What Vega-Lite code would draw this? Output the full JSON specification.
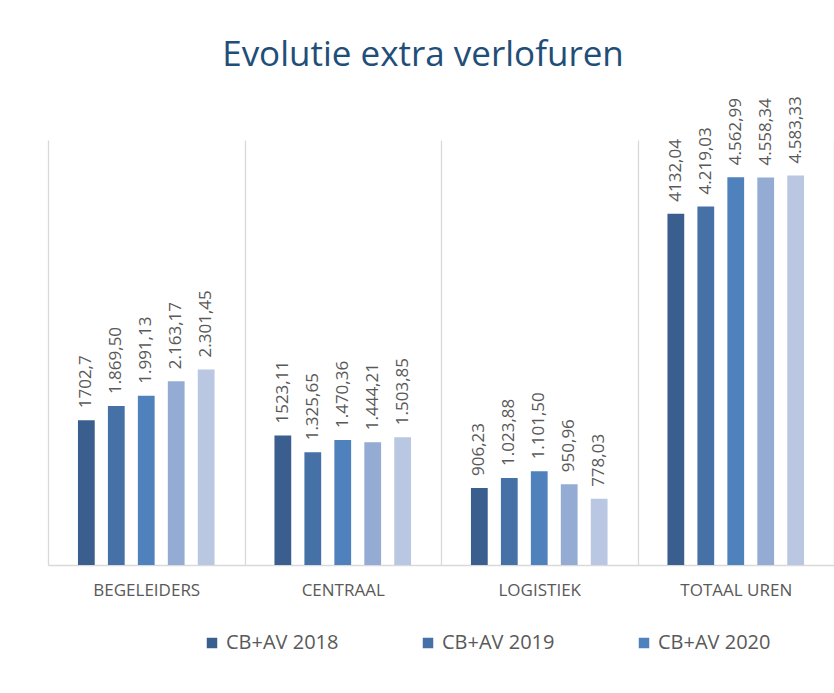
{
  "$schema": "https://vega.github.io/schema/vega-lite/v6.json",
  "width": 786,
  "height": 425,
  "padding": {"left": 48, "top": 38, "right": 0, "bottom": 40},
  "autosize": {"type": "pad"},
  "background": "white",
  "config": {"view": {"stroke": null}},
  "title": {
    "text": "Evolutie extra verlofuren",
    "fontSize": 35,
    "font": "Open Sans",
    "fontWeight": "normal",
    "color": "#1F4E79",
    "anchor": "middle",
    "dx": -18,
    "offset": 23
  },
  "data": {
    "values": [
      {"categorie": "BEGELEIDERS", "reeks": "CB+AV 2018", "uren": 1702.7, "label": "1702,7"},
      {"categorie": "BEGELEIDERS", "reeks": "CB+AV 2019", "uren": 1869.50, "label": "1.869,50"},
      {"categorie": "BEGELEIDERS", "reeks": "CB+AV 2020", "uren": 1991.13, "label": "1.991,13"},
      {"categorie": "BEGELEIDERS", "reeks": "CB+AV 2021", "uren": 2163.17, "label": "2.163,17"},
      {"categorie": "BEGELEIDERS", "reeks": "CB+AV 2022", "uren": 2301.45, "label": "2.301,45"},
      {"categorie": "CENTRAAL", "reeks": "CB+AV 2018", "uren": 1523.11, "label": "1523,11"},
      {"categorie": "CENTRAAL", "reeks": "CB+AV 2019", "uren": 1325.65, "label": "1.325,65"},
      {"categorie": "CENTRAAL", "reeks": "CB+AV 2020", "uren": 1470.36, "label": "1.470,36"},
      {"categorie": "CENTRAAL", "reeks": "CB+AV 2021", "uren": 1444.21, "label": "1.444,21"},
      {"categorie": "CENTRAAL", "reeks": "CB+AV 2022", "uren": 1503.85, "label": "1.503,85"},
      {"categorie": "LOGISTIEK", "reeks": "CB+AV 2018", "uren": 906.23, "label": "906,23"},
      {"categorie": "LOGISTIEK", "reeks": "CB+AV 2019", "uren": 1023.88, "label": "1.023,88"},
      {"categorie": "LOGISTIEK", "reeks": "CB+AV 2020", "uren": 1101.50, "label": "1.101,50"},
      {"categorie": "LOGISTIEK", "reeks": "CB+AV 2021", "uren": 950.96, "label": "950,96"},
      {"categorie": "LOGISTIEK", "reeks": "CB+AV 2022", "uren": 778.03, "label": "778,03"},
      {"categorie": "TOTAAL UREN", "reeks": "CB+AV 2018", "uren": 4132.04, "label": "4132,04"},
      {"categorie": "TOTAAL UREN", "reeks": "CB+AV 2019", "uren": 4219.03, "label": "4.219,03"},
      {"categorie": "TOTAAL UREN", "reeks": "CB+AV 2020", "uren": 4562.99, "label": "4.562,99"},
      {"categorie": "TOTAAL UREN", "reeks": "CB+AV 2021", "uren": 4558.34, "label": "4.558,34"},
      {"categorie": "TOTAAL UREN", "reeks": "CB+AV 2022", "uren": 4583.33, "label": "4.583,33"}
    ]
  },
  "encoding": {
    "x": {
      "field": "categorie",
      "type": "nominal",
      "sort": ["BEGELEIDERS", "CENTRAAL", "LOGISTIEK", "TOTAAL UREN"],
      "scale": {"paddingInner": 0, "paddingOuter": 0},
      "axis": {
        "title": null,
        "labelAngle": 0,
        "labelFont": "Open Sans",
        "labelFontSize": 17,
        "labelColor": "#595959",
        "labelPadding": 17,
        "ticks": false,
        "domainColor": "#d9d9d9",
        "domainWidth": 1.3,
        "grid": true,
        "gridColor": "#d9d9d9",
        "gridWidth": 1.3,
        "tickBand": "extent"
      }
    },
    "xOffset": {
      "field": "reeks",
      "type": "nominal",
      "scale": {"paddingInner": 0.44, "paddingOuter": 1.17}
    },
    "y": {
      "field": "uren",
      "type": "quantitative",
      "scale": {"domain": [0, 5000]},
      "axis": null
    }
  },
  "layer": [
    {
      "mark": {"type": "bar"},
      "encoding": {
        "color": {
          "field": "reeks",
          "type": "nominal",
          "scale": {
            "domain": ["CB+AV 2018", "CB+AV 2019", "CB+AV 2020", "CB+AV 2021", "CB+AV 2022"],
            "range": ["#3A5F8E", "#4571A7", "#4F81BD", "#94ABD3", "#B9C7E2"]
          },
          "legend": {
            "values": ["CB+AV 2018", "CB+AV 2019", "CB+AV 2020"],
            "title": null,
            "orient": "none",
            "legendX": 154,
            "legendY": 493,
            "direction": "horizontal",
            "columns": 3,
            "columnPadding": 79,
            "symbolType": "square",
            "symbolSize": 110,
            "symbolStrokeWidth": 0,
            "labelFont": "Open Sans",
            "labelFontSize": 20,
            "labelLimit": 300,
            "labelColor": "#595959",
            "labelOffset": 4
          }
        }
      }
    },
    {
      "mark": {
        "type": "text",
        "angle": -90,
        "align": "left",
        "baseline": "middle",
        "dx": 12,
        "font": "Open Sans",
        "fontSize": 17,
        "color": "#595959"
      },
      "encoding": {
        "text": {"field": "label", "type": "nominal"}
      }
    }
  ]
}
